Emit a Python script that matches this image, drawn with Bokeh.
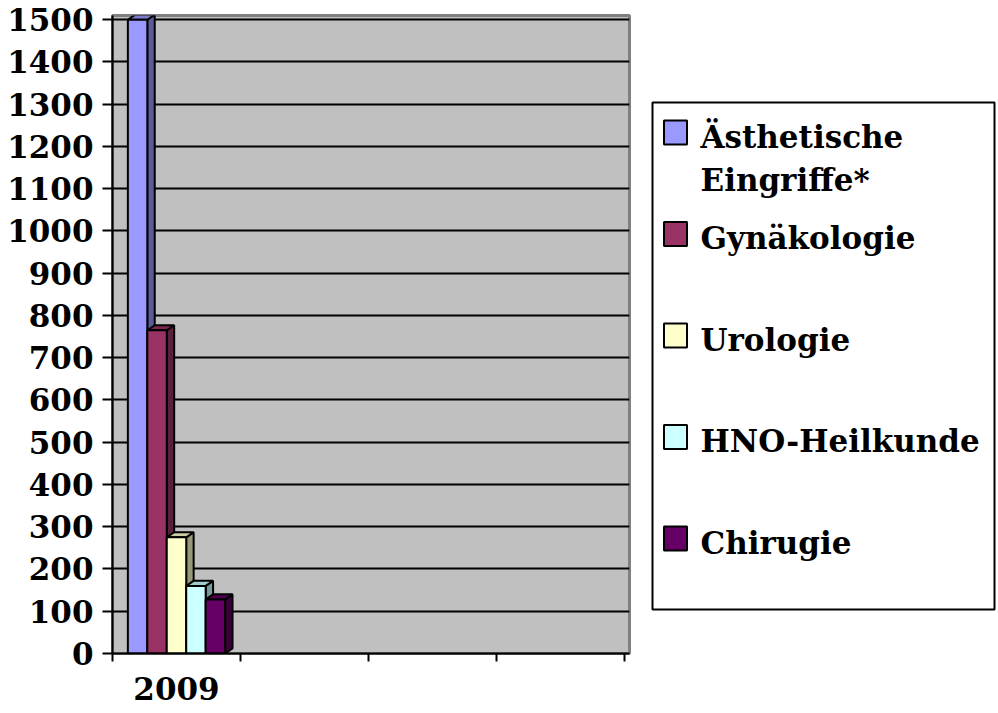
from bokeh.plotting import figure
from bokeh.models import Range1d, FixedTicker
from bokeh.layouts import row
from bokeh.core.properties import value
from bokeh.embed import file_html
from bokeh.resources import INLINE

# ---------------- data ----------------
categories = ["2009"]
n_slots = 4
series_names = ["Ästhetische\nEingriffe*", "Gynäkologie", "Urologie", "HNO-Heilkunde", "Chirugie"]
values_2009 = [1500, 765, 275, 160, 128]
series_colors = ["#9999FF", "#993366", "#FFFFCC", "#CCFFFF", "#660066"]
y_ticks = [0, 100, 200, 300, 400, 500, 600, 700, 800, 900, 1000, 1100, 1200, 1300, 1400, 1500]

FONT = "DejaVu Serif"
FS = "31px"

# layout (pixels)
TOP, FRAME_H, BOTTOM = 15, 638, 58
LEFT, FRAME_W, RIGHT = 112, 517, 11


def shade(hex_color, f):
    h = hex_color.lstrip("#")
    r, g, b = (int(h[i:i + 2], 16) for i in (0, 2, 4))
    return "#%02x%02x%02x" % (int(r * f), int(g * f), int(b * f))


# ---------------- chart ----------------
p = figure(frame_width=FRAME_W, frame_height=FRAME_H,
           x_range=Range1d(0, n_slots + 0.04), y_range=Range1d(0, 1510),
           output_backend="svg", toolbar_location=None,
           min_border_left=LEFT, min_border_right=RIGHT,
           min_border_top=TOP, min_border_bottom=BOTTOM,
           background_fill_color="#C0C0C0", border_fill_color="white",
           outline_line_color="#808080", outline_line_width=3)

bar_w = 0.152
dx = 0.058   # 3D depth (x, data units)
dy = 12      # 3D depth (y, data units)

xs, ys, fills = [], [], []
for ci, cat in enumerate(categories):
    center = ci + 0.5
    n = len(series_names)
    for i in range(n):
        v = values_2009[i]
        xc = center + (i - (n - 1) / 2) * bar_w
        l, r = xc - bar_w / 2, xc + bar_w / 2
        col = series_colors[i]
        # side face
        xs.append([r, r + dx, r + dx, r]); ys.append([0, dy, v + dy, v]); fills.append(shade(col, 0.6))
        # top face
        xs.append([l, l + dx, r + dx, r]); ys.append([v, v + dy, v + dy, v]); fills.append(shade(col, 0.8))
        # front face
        xs.append([l, r, r, l]); ys.append([0, 0, v, v]); fills.append(col)

p.patches(xs=xs, ys=ys, fill_color=fills, line_color="black", line_width=2)

# y axis
p.yaxis.ticker = FixedTicker(ticks=y_ticks)
p.yaxis.major_label_text_font = FONT
p.yaxis.major_label_text_font_style = "bold"
p.yaxis.major_label_text_font_size = FS
p.yaxis.major_label_text_color = "black"
p.yaxis.major_tick_out = 10
p.yaxis.major_tick_in = 0
p.yaxis.major_tick_line_width = 2
p.yaxis.major_tick_line_color = "black"
p.yaxis.minor_tick_line_color = None
p.yaxis.axis_line_width = 2
p.yaxis.axis_line_color = "black"
p.yaxis.major_label_standoff = 9

# x axis
cat_centers = [i + 0.5 for i in range(len(categories))]
p.xaxis.ticker = FixedTicker(ticks=cat_centers, minor_ticks=list(range(n_slots + 1)))
p.xaxis.major_label_overrides = dict(zip(cat_centers, categories))
p.xaxis.major_label_text_font = FONT
p.xaxis.major_label_text_font_style = "bold"
p.xaxis.major_label_text_font_size = FS
p.xaxis.major_label_text_color = "black"
p.xaxis.major_tick_line_color = None
p.xaxis.major_tick_out = 8
p.xaxis.major_tick_in = 0
p.xaxis.minor_tick_out = 8
p.xaxis.minor_tick_in = 0
p.xaxis.minor_tick_line_width = 2
p.xaxis.minor_tick_line_color = "black"
p.xaxis.axis_line_width = 2
p.xaxis.axis_line_color = "black"
p.xaxis.major_label_standoff = 15

p.xgrid.visible = False
p.ygrid.grid_line_color = "black"
p.ygrid.grid_line_width = 2

# ---------------- legend (own panel, pixel-like coordinates) ----------------
LW = 356
lg = figure(frame_width=LW, frame_height=FRAME_H,
            x_range=Range1d(0, LW), y_range=Range1d(TOP + FRAME_H, TOP),
            output_backend="svg", toolbar_location=None,
            x_axis_location=None, y_axis_location=None,
            min_border_left=0, min_border_right=0,
            min_border_top=TOP, min_border_bottom=BOTTOM,
            outline_line_color=None,
            background_fill_color="white", border_fill_color="white")
lg.grid.visible = False

lg.quad(left=12, right=354, top=102, bottom=609, fill_color="white",
        line_color="black", line_width=2)

first_center = 132
step = 101.5
centers = [first_center + i * step for i in range(len(series_names))]
lg.rect(x=[35] * len(series_names), y=centers, width=23, height=24,
        fill_color=series_colors, line_color="black", line_width=2)

tx, ty, tt = [], [], []
for c, name in zip(centers, series_names):
    for k, line in enumerate(name.split("\n")):
        tx.append(60)
        ty.append(c + 4 + k * 43)
        tt.append(line)
lg.text(x=tx, y=ty, text=tt, text_font=value(FONT), text_font_style="bold",
        text_font_size=FS, text_baseline="alphabetic", text_align="left",
        text_color="black")

layout = row(p, lg)
open("out.html", "w").write(file_html(layout, INLINE))
